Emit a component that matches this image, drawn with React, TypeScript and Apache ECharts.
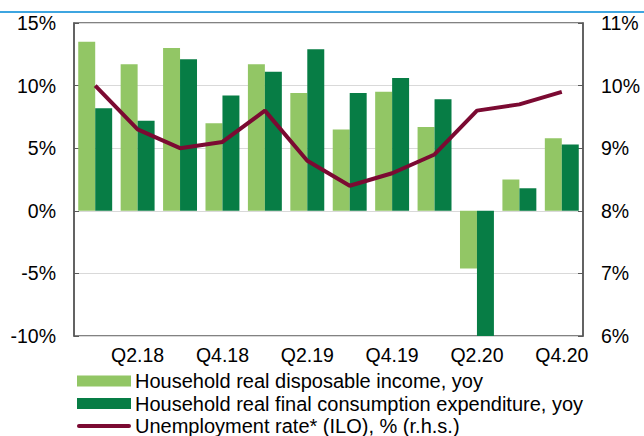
import React, { useEffect, useRef } from "react";
import * as echarts from "echarts";

const categories = ["Q1.18", "Q2.18", "Q3.18", "Q4.18", "Q1.19", "Q2.19", "Q3.19", "Q4.19", "Q1.20", "Q2.20", "Q3.20", "Q4.20"];
const incomeYoy = [13.5, 11.7, 13.0, 7.0, 11.7, 9.4, 6.5, 9.5, 6.7, -4.6, 2.5, 5.8];
const consumptionYoy = [8.2, 7.2, 12.1, 9.2, 11.1, 12.9, 9.4, 10.6, 8.9, -10, 1.8, 5.3];
const unemployment = [10.0, 9.3, 9.0, 9.1, 9.6, 8.8, 8.4, 8.6, 8.9, 9.6, 9.7, 9.9];

const names = [
  "Household real disposable income, yoy",
  "Household real final consumption expenditure, yoy",
  "Unemployment rate* (ILO), % (r.h.s.)",
];

const FONT = "Liberation Sans, Arial, sans-serif";

export default function App() {
  const ref = useRef<HTMLDivElement>(null);
  useEffect(() => {
    const chart = echarts.init(ref.current!, null, { renderer: "svg" });
    chart.setOption({
      animation: false,
      textStyle: { fontFamily: FONT },
      grid: {
        left: 74,
        right: 61,
        top: 23,
        bottom: 100,
        show: true,
        borderColor: "#595959",
        borderWidth: 1.5,
        backgroundColor: "transparent",
      },
      graphic: [
        {
          type: "line",
          shape: { x1: 0, y1: 12, x2: 644, y2: 12 },
          style: { stroke: "#3DA5E0", lineWidth: 2 },
        },
      ],
      legend: {
        orient: "vertical",
        left: 77,
        top: 371,
        height: 120,
        padding: 0,
        itemWidth: 54,
        itemHeight: 11,
        itemGap: 2.5,
        textStyle: { fontSize: 20, lineHeight: 20, color: "#000", fontFamily: FONT, padding: [0, 0, 0, -1] },
        data: [
          { name: names[0], icon: "rect" },
          { name: names[1], icon: "rect" },
          { name: names[2], icon: "path://M2,0 H54 A2,2 0 0 1 54,4 H2 A2,2 0 0 1 2,0 Z" },
        ],
      },
      xAxis: {
        type: "category",
        data: categories,
        axisLine: { show: false, onZero: false },
        axisTick: { show: false },
        axisLabel: {
          interval: 0,
          formatter: (v: string, i: number) => (i % 2 === 1 ? v : ""),
          fontSize: 19.5,
          color: "#000",
          margin: 9,
          fontFamily: FONT,
        },
      },
      yAxis: [
        {
          type: "value",
          min: -10,
          max: 15,
          interval: 5,
          axisLine: { show: true, lineStyle: { color: "#595959", width: 1.5 } },
          axisTick: { show: true, inside: true, length: 5, lineStyle: { color: "#595959" } },
          axisLabel: { formatter: "{value}%", fontSize: 19.5, color: "#000", margin: 18, fontFamily: FONT },
          splitLine: { show: true, lineStyle: { color: "#D9D9D9", width: 1.2 } },
        },
        {
          type: "value",
          min: 6,
          max: 11,
          interval: 1,
          position: "right",
          axisLine: { show: true, lineStyle: { color: "#595959", width: 1.5 } },
          axisTick: { show: true, inside: true, length: 5, lineStyle: { color: "#595959" } },
          axisLabel: { formatter: "{value}%", fontSize: 19.5, color: "#000", margin: 18, fontFamily: FONT },
          splitLine: { show: false },
        },
      ],
      series: [
        {
          name: names[0],
          type: "bar",
          data: incomeYoy,
          itemStyle: { color: "#92C665" },
          barGap: "0%",
          barCategoryGap: "20%",
        },
        {
          name: names[1],
          type: "bar",
          data: consumptionYoy,
          itemStyle: { color: "#077D45" },
          barGap: "0%",
          barCategoryGap: "20%",
        },
        {
          name: names[2],
          type: "line",
          yAxisIndex: 1,
          data: unemployment,
          symbol: "none",
          lineStyle: { color: "#7B0A32", width: 4 },
          itemStyle: { color: "#7B0A32" },
        },
      ],
    });
    return () => chart.dispose();
  }, []);
  return <div ref={ref} style={{ width: 644, height: 436, position: "absolute", left: 0, top: 0 }} />;
}
